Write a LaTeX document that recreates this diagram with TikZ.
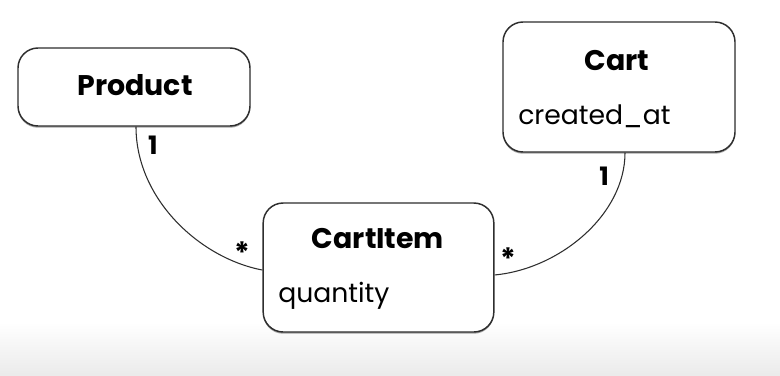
\documentclass[tikz,border=0pt]{standalone}
\usepackage{fontspec}
\setmainfont{Poppins}
\usetikzlibrary{shadows}
\definecolor{edge}{HTML}{2E2E2E}
\begin{document}
\begin{tikzpicture}[x=0.75pt,y=-0.75pt,
  entity/.style={draw=edge, line width=1.1pt, fill=white, rounded corners=15pt,
    inner sep=0pt,
    drop shadow={shadow xshift=0pt, shadow yshift=-1.3pt, opacity=0.35, fill=black}},
  title/.style={font=\fontsize{21.3}{25}\selectfont\bfseries, text=black, inner sep=0pt},
  attr/.style={font=\fontsize{20}{24}\selectfont, text=black, inner sep=0pt, anchor=west},
  mult/.style={font=\fontsize{19}{22}\selectfont\bfseries, text=black, inner sep=0pt},
  many/.style={font=\fontsize{22}{26}\selectfont\bfseries, text=black, inner sep=0pt},
  assoc/.style={draw=edge, line width=0.8pt}]
  % canvas and the grey band at the foot
  \useasboundingbox (0,0) rectangle (780,375);
  \fill[white] (0,0) rectangle (780,375);
  \shade[top color=white, bottom color=black!8] (0,322) rectangle (780,375);

  % entity boxes
  \node[entity, minimum width=174pt, minimum height=58.5pt] (product) at (134,87) {};
  \node[entity, minimum width=174pt, minimum height=97.5pt] (cart) at (619,87) {};
  \node[entity, minimum width=173pt, minimum height=96.75pt] (cartitem) at (378.5,267.5) {};

  % titles and attributes
  \node[title] (productname) at (135,85) {Product};
  \node[title] (cartname) at (617,61) {Cart};
  \node[attr] (cartattr) at (518,116) {created\_at};
  \node[title] (cartitemname) at (378,239) {CartItem};
  \node[attr] (cartitemattr) at (278,296) {quantity};

  % associations
  \coordinate (p1) at ([xshift=1.5pt]product.south);
  \coordinate (ci1) at ([yshift=-1.9pt]cartitem.west);
  \coordinate (ci2) at ([yshift=-5.6pt]cartitem.east);
  \coordinate (c1) at ([xshift=4.5pt]cart.south);
  \draw[assoc] (p1) .. controls +(0,72) and +(-63,-12) .. (ci1);
  \draw[assoc] (ci2) .. controls +(65,-6) and +(0,62) .. (c1);

  % multiplicities
  \node[mult] (m1) at (153,145) {1};
  \node[many] (m2) at (242,253) {*};
  \node[many] (m3) at (508,259) {*};
  \node[mult] (m4) at (604,176) {1};
\end{tikzpicture}
\end{document}
